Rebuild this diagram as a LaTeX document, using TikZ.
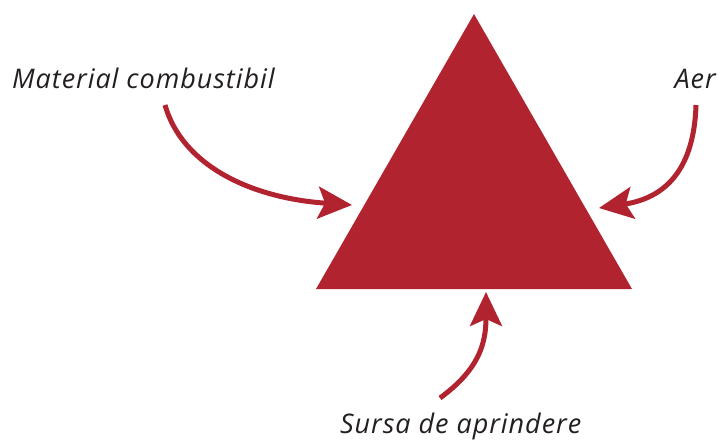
\documentclass[tikz,border=0pt]{standalone}
\usepackage{fontspec}
\setmainfont{Open Sans}
\usetikzlibrary{arrows.meta}
\definecolor{firered}{HTML}{B0232F}
\definecolor{txt}{HTML}{231F20}
\begin{document}
\begin{tikzpicture}[x=1pt,y=-1pt,
  lbl/.style={inner sep=0pt, text=txt, font=\fontsize{27}{30}\selectfont\itshape\addfontfeature{LetterSpace=3.5}},
  flow/.style={draw=firered, line width=5pt, -{Stealth[length=34pt,width=32pt,inset=7pt]}}]
\useasboundingbox (0,0) rectangle (720,440);
\fill[firered] (474,14) coordinate (apex) -- (632,289) coordinate (br) -- (316,289) coordinate (bl) -- cycle;
\node[lbl, anchor=base west] (mat) at (12,88) {Material combustibil};
\node[lbl, anchor=base east] (aer) at (716,88) {Aer};
\node[lbl, anchor=base west] (sursa) at (340,433) {Sursa de aprindere};
\coordinate (s1) at (165,105);
\coordinate (t1) at (352,205);
\coordinate (s2) at (696,105);
\coordinate (t2) at (599,208);
\coordinate (s3) at (440,398);
\coordinate (t3) at (486,292);
\draw[flow] (s1) .. controls (182,165) and (250,198) .. (t1);
\draw[flow] (s2) .. controls (694,170) and (665,198) .. (t2);
\draw[flow] (s3) .. controls (478,370) and (486,345) .. (t3);
\end{tikzpicture}
\end{document}
